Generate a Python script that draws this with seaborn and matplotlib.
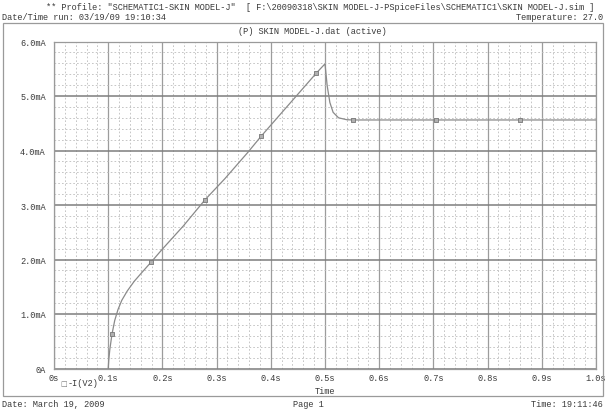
import matplotlib
matplotlib.use("Agg")
import matplotlib.pyplot as plt
import matplotlib.patches as mpatches
from matplotlib.ticker import MultipleLocator, FixedLocator, FixedFormatter
import seaborn as sns
import pandas as pd

# ---- data ----
time_s = [0.100, 0.101, 0.103, 0.107, 0.112, 0.118, 0.125, 0.135, 0.148, 0.162,
          0.179, 0.199, 0.239, 0.279, 0.315, 0.358, 0.382, 0.484, 0.500, 0.504,
          0.509, 0.515, 0.525, 0.540, 0.551, 0.704, 0.859, 1.000]
current_mA = [0.00, 0.15, 0.35, 0.63, 0.88, 1.08, 1.25, 1.42, 1.60, 1.76,
              1.95, 2.18, 2.62, 3.10, 3.48, 3.97, 4.26, 5.42, 5.59, 5.19,
              4.88, 4.70, 4.60, 4.565, 4.56, 4.56, 4.56, 4.56]
marker_time_s = [0.107, 0.179, 0.279, 0.382, 0.484, 0.551, 0.704, 0.859]
marker_current_mA = [0.63, 1.95, 3.10, 4.26, 5.42, 4.56, 4.56, 4.56]

x_ticks = [0.0, 0.1, 0.2, 0.3, 0.4, 0.5, 0.6, 0.7, 0.8, 0.9, 1.0]
x_labels = ["0s", "0.1s", "0.2s", "0.3s", "0.4s", "0.5s", "0.6s", "0.7s", "0.8s", "0.9s", "1.0s"]
y_ticks = [0, 1, 2, 3, 4, 5, 6]
y_labels = ["0A", "1.0mA", "2.0mA", "3.0mA", "4.0mA", "5.0mA", "6.0mA"]

series_name = "-I(V2)"
header_line1 = '** Profile: "SCHEMATIC1-SKIN MODEL-J"  [ F:\\20090318\\SKIN MODEL-J-PSpiceFiles\\SCHEMATIC1\\SKIN MODEL-J.sim ]'
header_left = "Date/Time run: 03/19/09 19:10:34"
header_right = "Temperature: 27.0"
plot_title = "(P) SKIN MODEL-J.dat (active)"
footer_left = "Date: March 19, 2009"
footer_mid = "Page 1"
footer_right = "Time: 19:11:46"
x_title = "Time"

# ---- style ----
sns.set_style("white")
plt.rcParams["font.family"] = ["Liberation Mono", "DejaVu Sans Mono"]
TXT = "#3a3a3a"
FS = 6.2

df = pd.DataFrame({"t": time_s, "i": current_mA})
dm = pd.DataFrame({"t": marker_time_s, "i": marker_current_mA})

fig = plt.figure(figsize=(6.05, 4.10), dpi=100)
fig.patch.set_facecolor("white")

# outer frame
fig.patches.append(mpatches.Rectangle((3 / 605, 13 / 410), 600 / 605, 373 / 410,
                                      transform=fig.transFigure, fill=False,
                                      edgecolor="#9a9a9a", linewidth=0.9))

ax = fig.add_axes([54 / 605, 40.5 / 410, 542 / 605, 327 / 410])

sns.lineplot(data=df, x="t", y="i", ax=ax, color="#8a8a8a", linewidth=0.9,
             sort=False, estimator=None, zorder=5)
sns.scatterplot(data=dm, x="t", y="i", ax=ax, marker="s", s=10,
                facecolor="#b0b0b0", edgecolor="#777777", linewidth=0.6, zorder=6)

ax.set_xlim(0, 1.0)
ax.set_ylim(0, 6)
ax.xaxis.set_major_locator(FixedLocator(x_ticks))
ax.xaxis.set_major_formatter(FixedFormatter(x_labels))
ax.yaxis.set_major_locator(FixedLocator(y_ticks))
ax.yaxis.set_major_formatter(FixedFormatter(y_labels))
ax.xaxis.set_minor_locator(MultipleLocator(0.02))
ax.yaxis.set_minor_locator(MultipleLocator(0.2))

# minor dotted grid
ax.grid(which="minor", axis="both", color="#bdbdbd", linestyle=(0, (2, 2.5)), linewidth=0.6)
# major vertical grid
ax.grid(which="major", axis="x", color="#9c9c9c", linestyle="-", linewidth=0.9)
# major horizontal grid (darker)
ax.grid(which="major", axis="y", color="#7d7d7d", linestyle="-", linewidth=1.1)
ax.set_axisbelow(True)

for s in ax.spines.values():
    s.set_color("#9a9a9a")
    s.set_linewidth(0.9)

ax.tick_params(which="major", direction="out", length=4, width=0.8, color="#9a9a9a",
               labelsize=FS, labelcolor=TXT, pad=2)
ax.tick_params(which="minor", direction="out", length=0)
ax.tick_params(axis="x", length=1.5, pad=1.5)
ax.set_xlabel("")
ax.set_ylabel("")

# texts
fig.text(320 / 605, 1 - 7 / 410, header_line1, ha="center", va="center", fontsize=FS, color=TXT)
fig.text(2 / 605, 1 - 17 / 410, header_left, ha="left", va="center", fontsize=FS, color=TXT)
fig.text(603 / 605, 1 - 17 / 410, header_right, ha="right", va="center", fontsize=FS, color=TXT)
fig.text(312 / 605, 1 - 31 / 410, plot_title, ha="center", va="center", fontsize=FS, color=TXT)
fig.text(325 / 605, 1 - 392 / 410, x_title, ha="center", va="center", fontsize=FS, color=TXT)
fig.text(2 / 605, 1 - 405 / 410, footer_left, ha="left", va="center", fontsize=FS, color=TXT)
fig.text(308 / 605, 1 - 405 / 410, footer_mid, ha="center", va="center", fontsize=FS, color=TXT)
fig.text(603 / 605, 1 - 405 / 410, footer_right, ha="right", va="center", fontsize=FS, color=TXT)

# legend entry
fig.text(60 / 605, 1 - 384 / 410, "\u25a1", ha="left", va="center", fontsize=5,
         color="#777777", family=["DejaVu Sans"])
fig.text(68 / 605, 1 - 384 / 410, series_name, ha="left", va="center", fontsize=FS, color=TXT)

fig.savefig("out.png", dpi=100, facecolor="white")
